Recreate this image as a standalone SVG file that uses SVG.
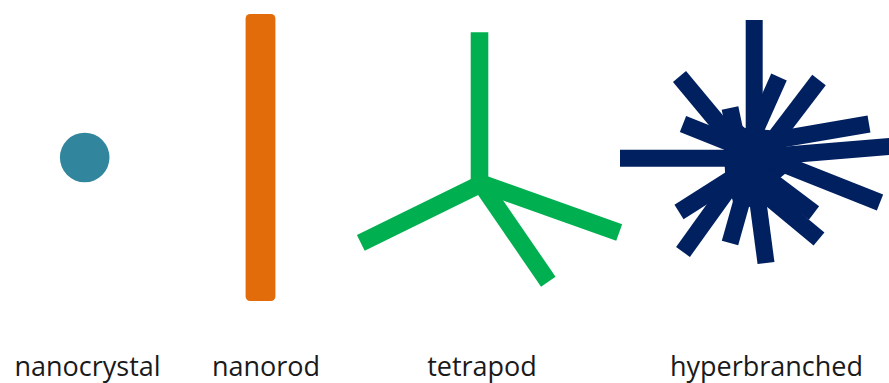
<svg xmlns="http://www.w3.org/2000/svg" width="889" height="383" viewBox="0 0 889 383">
  <style>
    .label { font-family: "Open Sans", "Liberation Sans", sans-serif; font-size: 27px; fill: #1a1a1a; text-anchor: middle; }
    .arm { stroke: #00B050; stroke-width: 17.6; stroke-linecap: butt; fill: none; }
    .ray { stroke: #002060; stroke-width: 17; stroke-linecap: butt; fill: none; }
  </style>
  <rect width="889" height="383" fill="#ffffff"/>

  <!-- zero-dimensional particle -->
  <g id="nanocrystal">
    <circle cx="84.7" cy="157.5" r="24.8" fill="#31859C"/>
    <text class="label" x="87.5" y="376">nanocrystal</text>
  </g>

  <!-- one-dimensional rod -->
  <g id="nanorod">
    <rect x="245.6" y="14" width="29.8" height="287" rx="4.5" fill="#E36C0A"/>
    <text class="label" x="266" y="376">nanorod</text>
  </g>

  <!-- four arms meeting at one core -->
  <g id="tetrapod">
    <line class="arm" x1="479.5" y1="32.3" x2="479.5" y2="186"/>
    <line class="arm" x1="360.8" y1="242.8" x2="481.5" y2="183.6"/>
    <line class="arm" x1="619.2" y1="232.5" x2="477.5" y2="182"/>
    <line class="arm" x1="548.3" y1="281.7" x2="480.5" y2="183"/>
    <polygon points="470.7,179 488.3,177.3 503.3,201.7 476.7,194.3" fill="#00B050"/>
    <text class="label" x="482" y="376">tetrapod</text>
  </g>

  <!-- many rays radiating from a dense core -->
  <g id="hyperbranched">
    <polygon points="745,128 768,130 786,132 784,150 798,163 780,178 766,205 750,207 733,202 725,172 724,150 722,127 726,113" fill="#002060"/>
    <line class="ray" x1="754.2" y1="20" x2="754.2" y2="165"/>
    <line class="ray" x1="620" y1="158.3" x2="760" y2="158.3"/>
    <line class="ray" x1="679.5" y1="76.5" x2="749" y2="160"/>
    <line class="ray" x1="683" y1="124" x2="753" y2="152"/>
    <line class="ray" x1="730" y1="108" x2="742" y2="165"/>
    <line class="ray" x1="779" y1="77" x2="742" y2="160"/>
    <line class="ray" x1="819" y1="80" x2="758" y2="160"/>
    <line class="ray" x1="869" y1="124" x2="753" y2="144"/>
    <line class="ray" x1="900" y1="145.5" x2="745" y2="158.4"/>
    <line class="ray" x1="880" y1="202.5" x2="753" y2="152"/>
    <line class="ray" x1="819" y1="239" x2="760" y2="190"/>
    <line class="ray" x1="814" y1="213" x2="745" y2="161"/>
    <line class="ray" x1="766" y1="263" x2="753" y2="165"/>
    <line class="ray" x1="730" y1="243" x2="752" y2="165"/>
    <line class="ray" x1="683" y1="252" x2="749" y2="160"/>
    <line class="ray" x1="679" y1="212" x2="753" y2="165"/>
    <text class="label" x="766.5" y="376">hyperbranched</text>
  </g>
</svg>
